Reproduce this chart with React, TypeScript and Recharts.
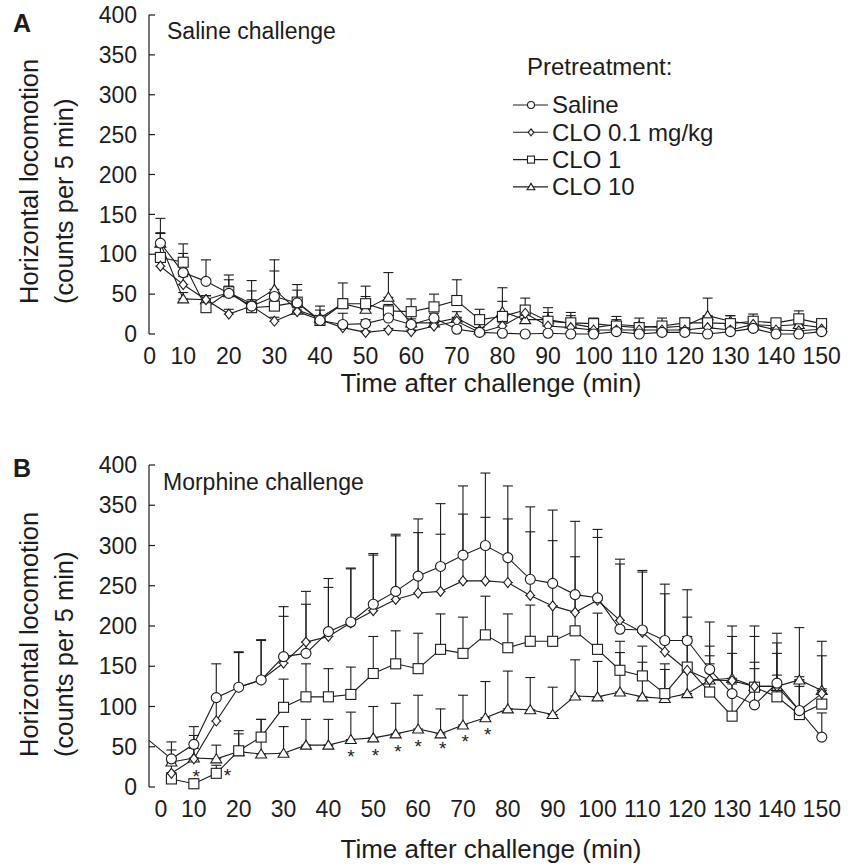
import React from "react";
import { ComposedChart, Line, XAxis, YAxis, ErrorBar, Scatter, Legend, Label } from "recharts";

const FONT = '"Liberation Sans", Arial, Helvetica, sans-serif';
const INK = "#1c1c1c";

// time after challenge (min)
const times = [5, 10, 15, 20, 25, 30, 35, 40, 45, 50, 55, 60, 65, 70, 75, 80, 85, 90, 95, 100, 105, 110, 115, 120, 125, 130, 135, 140, 145, 150];
const xLabels = [0, 10, 20, 30, 40, 50, 60, 70, 80, 90, 100, 110, 120, 130, 140, 150];
const yTicks = [0, 50, 100, 150, 200, 250, 300, 350, 400];
// tick marks sit between the 5-min bins
const xTickMarks = times.map((t) => t + 2.5);

// A: saline challenge
const salineA = [114, 77, 66, 51, 35, 47, 39, 17, 12, 13, 20, 12, 20, 6, 2, 1, 0, 1, 0, 0, 3, 0, 2, 2, 0, 3, 7, 0, 0, 3];
const salineAErr = [31, 24, 27, 17, 8, 32, 16, 5, 14, 5, 5, 4, 6, 4, 3, 2, 2, 2, 2, 2, 3, 2, 3, 3, 2, 3, 4, 2, 2, 3];
const clo01A = [85, 62, 43, 25, 35, 16, 28, 18, 8, 2, 5, 3, 10, 16, 2, 10, 26, 10, 8, 5, 5, 5, 5, 5, 8, 5, 12, 5, 4, 6];
const clo01AErr = [10, 10, 5, 6, 6, 5, 5, 4, 3, 2, 2, 2, 4, 5, 2, 4, 8, 5, 4, 3, 3, 3, 3, 3, 4, 3, 5, 3, 3, 3];
const clo1A = [96, 90, 33, 53, 33, 35, 40, 17, 38, 38, 29, 28, 34, 42, 18, 22, 30, 16, 14, 13, 10, 8, 10, 14, 14, 13, 16, 14, 19, 13];
const clo1AErr = [31, 23, 8, 21, 21, 8, 22, 18, 26, 22, 8, 16, 16, 26, 13, 19, 15, 17, 13, 7, 8, 6, 10, 6, 8, 10, 9, 5, 10, 5];
const clo10A = [114, 44, 43, 52, 38, 56, 30, 20, 38, 31, 46, 14, 14, 20, 5, 28, 18, 18, 13, 8, 12, 10, 8, 10, 23, 16, 12, 10, 12, 8];
const clo10AErr = [12, 8, 5, 8, 29, 37, 6, 10, 6, 16, 31, 5, 8, 8, 3, 30, 7, 9, 10, 6, 10, 10, 6, 8, 22, 7, 8, 6, 6, 5];

// B: morphine challenge
const salineBStart = 58; // value at t = 0, drawn left of the axis
const salineB = [35, 53, 111, 124, 133, 162, 166, 193, 205, 227, 243, 262, 274, 288, 300, 285, 258, 253, 239, 235, 196, 195, 182, 182, 146, 116, 102, 129, 95, 62];
const salineBErr = [21, 22, 42, 44, 50, 62, 61, 66, 67, 63, 71, 71, 78, 86, 90, 89, 90, 91, 91, 85, 87, 74, 70, 63, 59, 50, 45, 62, 38, 30];
const clo01B = [17, 35, 82, 124, 133, 154, 180, 187, 204, 219, 233, 241, 243, 256, 256, 254, 238, 225, 217, 232, 207, 192, 168, 145, 133, 132, 125, 125, 95, 116];
const clo01BErr = [20, 29, 30, 43, 49, 58, 63, 61, 67, 69, 79, 75, 71, 83, 79, 79, 79, 81, 69, 78, 70, 75, 72, 66, 42, 55, 62, 54, 42, 47];
const clo1B = [10, 4, 17, 45, 62, 99, 112, 112, 115, 141, 153, 147, 171, 166, 189, 173, 181, 181, 194, 171, 145, 138, 116, 149, 118, 88, 124, 112, 90, 103];
const clo1BErr = [8, 6, 10, 25, 22, 35, 41, 35, 34, 46, 41, 44, 44, 45, 48, 42, 45, 44, 45, 45, 36, 37, 37, 38, 35, 40, 31, 27, 35, 19];
const clo10B = [31, 36, 35, 44, 41, 42, 52, 52, 59, 61, 66, 72, 66, 77, 86, 97, 96, 90, 113, 112, 118, 112, 110, 116, 133, 135, 125, 125, 133, 120];
const clo10BErr = [15, 12, 17, 22, 43, 33, 32, 32, 34, 39, 38, 42, 31, 37, 45, 47, 40, 34, 45, 44, 49, 43, 36, 37, 30, 65, 75, 41, 65, 61];

// significance asterisks (B)
const sigT = [10.5, 17.5, 45, 50.5, 55.5, 60, 65.5, 70.5, 75.5];
const sigV = [17, 19, 42, 43, 48, 55, 52, 61, 70];

type Shape = "circle" | "diamond" | "square" | "triangle";

const series: { key: string; name: string; shape: Shape }[] = [
  { key: "clo10", name: "CLO 10", shape: "triangle" },
  { key: "clo1", name: "CLO 1", shape: "square" },
  { key: "clo01", name: "CLO 0.1 mg/kg", shape: "diamond" },
  { key: "saline", name: "Saline", shape: "circle" },
];
const legendOrder = ["saline", "clo01", "clo1", "clo10"];

function build(s: number[], se: number[], d1: number[], d1e: number[], d2: number[], d2e: number[], d3: number[], d3e: number[]) {
  return times.map((t, i) => ({
    t,
    saline: s[i],
    salineErr: [0, se[i]],
    clo01: d1[i],
    clo01Err: [0, d1e[i]],
    clo1: d2[i],
    clo1Err: [0, d2e[i]],
    clo10: d3[i],
    clo10Err: [0, d3e[i]],
  }));
}

const dataA = build(salineA, salineAErr, clo01A, clo01AErr, clo1A, clo1AErr, clo10A, clo10AErr);
const dataB = [{ t: 0, saline: salineBStart } as any].concat(
  build(salineB, salineBErr, clo01B, clo01BErr, clo1B, clo1BErr, clo10B, clo10BErr)
);
const sigData = sigT.map((t, i) => ({ t, v: sigV[i] }));

function Marker({ shape, cx, cy, s = 1 }: { shape: Shape; cx: number; cy: number; s?: number }) {
  const common = { fill: "#fff", stroke: INK, strokeWidth: 1.1 };
  if (shape === "circle") return <circle cx={cx} cy={cy} r={5 * s} {...common} />;
  if (shape === "diamond")
    return <path d={`M${cx},${cy - 5 * s}L${cx + 4 * s},${cy}L${cx},${cy + 5 * s}L${cx - 4 * s},${cy}Z`} {...common} />;
  if (shape === "square") return <rect x={cx - 5 * s} y={cy - 5 * s} width={10 * s} height={10 * s} {...common} />;
  return <path d={`M${cx},${cy - 5 * s}L${cx + 5.5 * s},${cy + 4 * s}L${cx - 5.5 * s},${cy + 4 * s}Z`} {...common} />;
}

const makeDot = (shape: Shape) => (p: any) => {
  if (p.cx == null || p.cy == null || p.payload?.t === 0) return <g key={`d-${p.index}`} />;
  return <Marker key={`d-${p.index}`} shape={shape} cx={p.cx} cy={p.cy} />;
};

const XTick = (p: any) => {
  const v = p.payload.value;
  return (
    <text x={p.x + (v === 0 ? 12 : 0)} y={p.y} dy="0.71em" textAnchor="middle" fontSize={23} fontFamily={FONT} fill={INK}>
      {v}
    </text>
  );
};

const YLabel = (p: any) => {
  const vb = p.viewBox;
  const y0 = vb.y + vb.height - 30;
  return (
    <g fontFamily={FONT} fontSize={25.5} fill={INK}>
      <text x={38} y={y0} transform={`rotate(-90, 38, ${y0})`} textAnchor="start">
        Horizontal locomotion
      </text>
      <text x={73} y={y0} transform={`rotate(-90, 73, ${y0})`} textAnchor="start">
        (counts per 5 min)
      </text>
    </g>
  );
};

const LegendBox = () => (
  <svg width={240} height={160} style={{ display: "block" }}>
    <text x={22} y={25} fontFamily={FONT} fontSize={24} fill={INK}>
      Pretreatment:
    </text>
    {legendOrder.map((k, i) => {
      const s = series.find((x) => x.key === k)!;
      const cy = 55 + i * 27.3;
      return (
        <g key={k}>
          <line x1={8} x2={43} y1={cy} y2={cy} stroke={INK} strokeWidth={1.1} />
          <Marker shape={s.shape} cx={26} cy={cy} s={0.7} />
          <text x={47} y={cy + 8.3} fontFamily={FONT} fontSize={24} fill={INK}>
            {s.name}
          </text>
        </g>
      );
    })}
  </svg>
);

const Asterisk = (p: any) => (
  <text x={p.cx} y={p.cy + 10} textAnchor="middle" fontSize={19} fontFamily={FONT} fill={INK}>
    *
  </text>
);

function Panel({
  data,
  height,
  top,
  labelAxisH,
  labelOffset,
  letter,
  letterY,
  title,
  titleX,
  titleY,
  legend,
  sig,
}: any) {
  const axisStyle = { stroke: INK, strokeWidth: 1.2 };
  return (
    <ComposedChart width={849} height={height} data={data} margin={{ top, right: 16, bottom: 0, left: 0 }}>
      <XAxis
        xAxisId="m"
        dataKey="t"
        type="number"
        domain={[2.5, 152.5]}
        ticks={xTickMarks}
        interval={0}
        tick={false}
        tickSize={-7}
        height={0}
        axisLine={axisStyle}
        tickLine={axisStyle}
      />
      <XAxis
        xAxisId="l"
        dataKey="t"
        type="number"
        domain={[2.5, 152.5]}
        ticks={xLabels}
        interval={0}
        axisLine={false}
        tickLine={false}
        tickSize={6}
        tickMargin={8}
        tick={<XTick />}
        height={labelAxisH}
      >
        <Label
          value="Time after challenge (min)"
          position="insideBottom"
          offset={labelOffset}
          style={{ fontSize: 26, fontFamily: FONT, fill: INK }}
        />
      </XAxis>
      <YAxis
        yAxisId="y"
        type="number"
        domain={[0, 400]}
        ticks={yTicks}
        interval={0}
        width={149}
        tickSize={-6}
        tickMargin={18}
        axisLine={axisStyle}
        tickLine={axisStyle}
        tick={{ fontSize: 23, fontFamily: FONT, fill: INK }}
      >
        <Label content={YLabel} />
      </YAxis>
      {series.map((s) => (
        <Line
          key={s.key}
          xAxisId="m"
          yAxisId="y"
          dataKey={s.key}
          name={s.name}
          type="linear"
          stroke={INK}
          strokeWidth={1.1}
          dot={makeDot(s.shape)}
          activeDot={false}
          isAnimationActive={false}
        >
          <ErrorBar dataKey={`${s.key}Err`} direction="y" width={5} stroke={INK} strokeWidth={1.1} />
        </Line>
      ))}
      {sig && (
        <Scatter xAxisId="m" yAxisId="y" data={sigData} dataKey="v" shape={<Asterisk />} isAnimationActive={false} />
      )}
      {legend && (
        <Legend
          layout="vertical"
          align="center"
          verticalAlign="middle"
          content={<LegendBox />}
          wrapperStyle={{ left: 505, top: 50, width: 240, height: 160 }}
        />
      )}
      <text x={13} y={letterY} fontFamily={FONT} fontSize={25} fontWeight="bold" fill={INK}>
        {letter}
      </text>
      <text x={titleX} y={titleY} fontFamily={FONT} fontSize={23} fill={INK}>
        {title}
      </text>
    </ComposedChart>
  );
}

export default function App() {
  return (
    <div style={{ position: "absolute", left: 0, top: 0, width: 849, height: 865, background: "#fff" }}>
      <Panel
        data={dataA}
        height={430}
        top={15}
        labelAxisH={96}
        labelOffset={38}
        letter="A"
        letterY={32}
        title="Saline challenge"
        titleX={167}
        titleY={39}
        legend
      />
      <Panel
        data={dataB}
        height={435}
        top={35}
        labelAxisH={78}
        labelOffset={7}
        letter="B"
        letterY={47}
        title="Morphine challenge"
        titleX={163}
        titleY={60}
        sig
      />
    </div>
  );
}
